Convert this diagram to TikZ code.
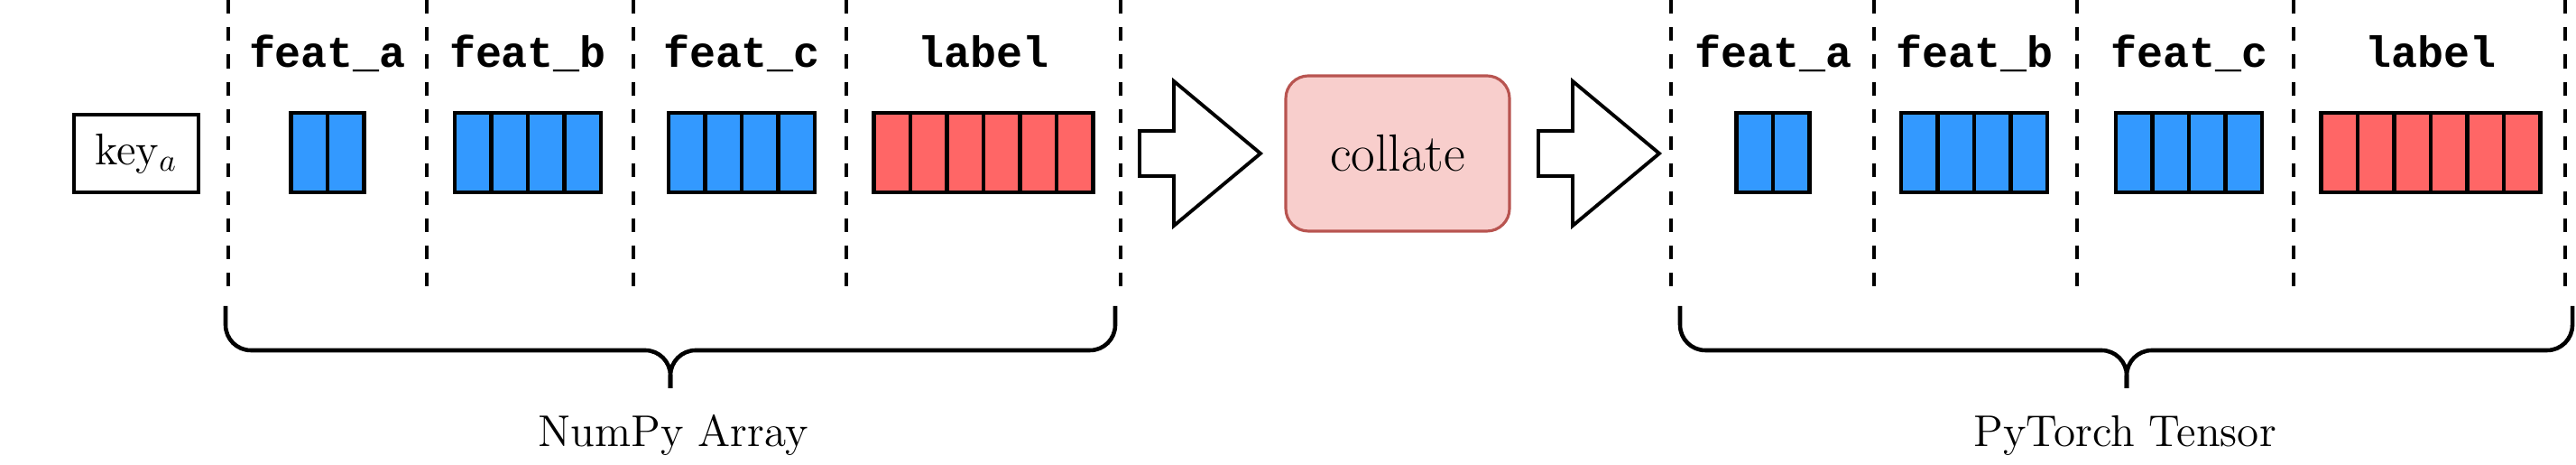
\documentclass[tikz,border=0pt]{standalone}
\usepackage{fontspec}
\setmonofont{Liberation Mono}
\usetikzlibrary{positioning}

\begin{document}
\begin{tikzpicture}[
    colhead/.style={
        font=\fontsize{13.75}{16}\selectfont\ttfamily\bfseries,
        anchor=base,
        inner sep=0pt
    },
    sepline/.style={line width=1.1pt, dash pattern=on 4.3pt off 4.3pt},
    cell/.style={line width=1.4pt},
    keybox/.style={
        draw,
        line width=1pt,
        minimum width=1.38cm,
        minimum height=0.86cm,
        inner sep=0pt,
        font=\fontsize{14}{16}\selectfont
    },
    opbox/.style={
        draw=opedge,
        fill=opfill,
        line width=0.9pt,
        rounded corners=0.25cm,
        minimum width=2.48cm,
        minimum height=1.72cm,
        font=\fontsize{16.5}{19}\selectfont
    },
    hollow/.style={draw, line width=1.1pt, line join=miter, fill=white},
    bracepath/.style={line width=1.3pt, rounded corners=0.28cm},
    grouplabel/.style={
        font=\fontsize{14}{16}\selectfont,
        anchor=base,
        inner sep=0pt
    }
]

\definecolor{featcol}{HTML}{3399FF}
\definecolor{labcol}{HTML}{FF6666}
\definecolor{opfill}{HTML}{F8CECC}
\definecolor{opedge}{HTML}{B85450}

\useasboundingbox (0,0) rectangle (28.55,5.15);

\node[keybox] (key) at (1.51,3.45) {key$_a$};

% NumPy side
\foreach \x in {2.53,4.73,7.02,9.38,12.42}
    \draw[sepline] (\x,5.15) -- (\x,1.98);

\foreach \cx/\n/\col/\txt/\nm in {
        3.63/2/featcol/feat\_a/a,
        5.85/4/featcol/feat\_b/b,
        8.22/4/featcol/feat\_c/c,
        10.90/6/labcol/label/l}{
    \node[colhead] (np-\nm) at (\cx,4.40) {\txt};
    \foreach \i in {1,...,\n}
        \draw[cell, fill=\col] ({\cx+(\i-1-\n/2)*0.405},3.02) rectangle ++(0.405,0.88);
}

\draw[bracepath] (2.50,1.76) -- (2.50,1.27) -- (7.43,1.27) -- (7.43,0.85);
\draw[bracepath] (12.36,1.76) -- (12.36,1.27) -- (7.43,1.27) -- (7.43,0.85);
\node[grouplabel] (numpy) at (7.46,0.20) {NumPy Array};

% collate step
\coordinate (arrA) at (12.63,3.45);
\draw[hollow] (arrA) ++(0,0.25) -- ++(0.38,0) -- ++(0,0.55) -- ++(0.96,-0.80)
    -- ++(-0.96,-0.80) -- ++(0,0.55) -- ++(-0.38,0) -- cycle;

\node[opbox] (collate) at (15.49,3.45) {collate};

\coordinate (arrB) at (17.05,3.45);
\draw[hollow] (arrB) ++(0,0.25) -- ++(0.38,0) -- ++(0,0.55) -- ++(0.96,-0.80)
    -- ++(-0.96,-0.80) -- ++(0,0.55) -- ++(-0.38,0) -- cycle;

% PyTorch side
\foreach \x in {18.52,20.77,23.02,25.42,28.43}
    \draw[sepline] (\x,5.15) -- (\x,1.98);

\foreach \cx/\n/\col/\txt/\nm in {
        19.65/2/featcol/feat\_a/a,
        21.88/4/featcol/feat\_b/b,
        24.26/4/featcol/feat\_c/c,
        26.94/6/labcol/label/l}{
    \node[colhead] (pt-\nm) at (\cx,4.40) {\txt};
    \foreach \i in {1,...,\n}
        \draw[cell, fill=\col] ({\cx+(\i-1-\n/2)*0.405},3.02) rectangle ++(0.405,0.88);
}

\draw[bracepath] (18.62,1.76) -- (18.62,1.27) -- (23.57,1.27) -- (23.57,0.85);
\draw[bracepath] (28.51,1.76) -- (28.51,1.27) -- (23.57,1.27) -- (23.57,0.85);
\node[grouplabel] (torch) at (23.55,0.20) {PyTorch Tensor};

\end{tikzpicture}
\end{document}
